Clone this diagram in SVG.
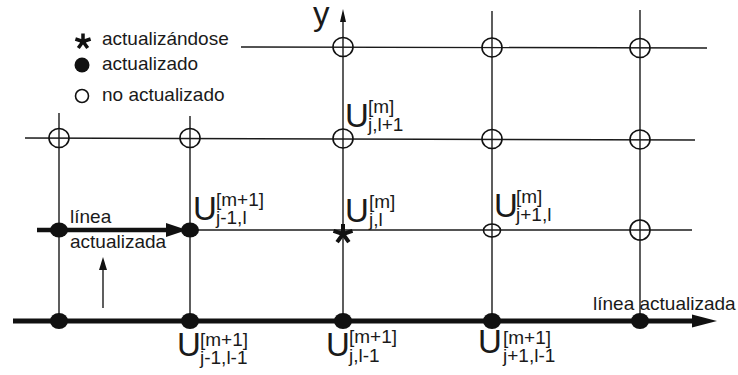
<svg xmlns="http://www.w3.org/2000/svg" width="738" height="375" viewBox="0 0 738 375">
<style>
.t{font-family:"Liberation Sans",Arial,Helvetica,sans-serif;font-size:19px;fill:#1a1a1a}
.u{font-size:33px}
.ln{stroke:#1a1a1a;stroke-width:1.4;fill:none}
.thick{stroke:#111;stroke-width:5;fill:none}
.open{fill:none;stroke:#111;stroke-width:1.6}
.dot{fill:#111}
.star{stroke:#111;fill:none}
.head{fill:#111}
</style>
<defs>
<path id="ast" d="M0 0L0 -1M0 0L0.951 -0.309M0 0L0.588 0.809M0 0L-0.588 0.809M0 0L-0.951 -0.309"/>
</defs>

<g id="legend">
<g transform="translate(83,41.5) scale(8)"><use href="#ast" class="star" style="stroke-width:0.44"/></g>
<text class="t" x="102" y="45">actualizándose</text>
<ellipse class="dot" cx="82" cy="65" rx="7.5" ry="7.5"/>
<text class="t" x="102" y="70">actualizado</text>
<ellipse class="open" cx="82" cy="96" rx="6.5" ry="6.5"/>
<text class="t" x="102" y="101">no actualizado</text>
</g>

<g id="connectors">
<path class="ln" d="M241 47L707 48"/>
<path class="ln" d="M25 138L695 140"/>
<path class="ln" d="M37 230L692 230"/>
<path class="ln" d="M59 113V321M190 116V321M343 20V321M492 11V321M640 10V321"/>
<path class="thick" d="M37 230H170" style="stroke-width:4.5"/>
<polygon class="head" points="166,223 187,230 166,237"/>
<path class="thick" d="M13 321H695"/>
<polygon class="head" points="692,314.5 717,321 692,327.5"/>
<polygon class="head" points="340,22 343,9 346,22"/>
<path class="ln" d="M103 308V269"/>
<polygon class="head" points="99,270 103,257 107,270"/>
</g>

<g id="nodes">
<g id="n-343-47"><ellipse class="open" cx="343" cy="47" rx="10" ry="9.5"/></g>
<g id="n-492-47"><ellipse class="open" cx="492" cy="47.5" rx="10" ry="9.5"/></g>
<g id="n-640-48"><ellipse class="open" cx="640" cy="48" rx="10" ry="9.5"/></g>
<g id="n-59-138"><ellipse class="open" cx="59" cy="138" rx="10" ry="9.5"/></g>
<g id="n-190-138"><ellipse class="open" cx="190" cy="138" rx="10" ry="9.5"/></g>
<g id="n-343-138"><ellipse class="open" cx="343" cy="138.5" rx="10" ry="9.5"/></g>
<g id="n-492-139"><ellipse class="open" cx="492" cy="139" rx="10" ry="9.5"/></g>
<g id="n-640-139"><ellipse class="open" cx="640" cy="139.5" rx="10" ry="9.5"/></g>
<g id="n-59-230"><ellipse class="dot" cx="59" cy="230" rx="9" ry="7.5"/></g>
<g id="n-190-230"><ellipse class="dot" cx="190" cy="230" rx="9" ry="7.5"/></g>
<g id="n-343-230"><g transform="translate(343,234) scale(10)"><use href="#ast" class="star" style="stroke-width:0.4"/></g></g>
<g id="n-492-230"><ellipse class="open" cx="492" cy="230.5" rx="8.5" ry="6.5"/></g>
<g id="n-640-230"><ellipse class="open" cx="640" cy="230" rx="10" ry="10"/></g>
<g id="n-59-321"><ellipse class="dot" cx="59" cy="321" rx="9" ry="8"/></g>
<g id="n-190-321"><ellipse class="dot" cx="190" cy="321" rx="9" ry="8"/></g>
<g id="n-343-321"><ellipse class="dot" cx="343" cy="321" rx="9" ry="8"/></g>
<g id="n-492-321"><ellipse class="dot" cx="492" cy="321" rx="9" ry="8"/></g>
<g id="n-640-321"><ellipse class="dot" cx="640" cy="321" rx="9" ry="8"/></g>
</g>

<g id="labels">
<text class="t u" x="313" y="25">y</text>
<text class="t" x="70" y="223">línea</text>
<text class="t" x="70" y="248">actualizada</text>
<text class="t" x="593" y="310">línea actualizada</text>

<text class="t"><tspan class="u" x="345" y="127">U</tspan><tspan x="368" y="113">[m]</tspan><tspan x="368" y="131">j,l+1</tspan></text>

<text class="t"><tspan class="u" x="193" y="220">U</tspan><tspan x="216" y="206">[m+1]</tspan><tspan x="216" y="224">j-1,l</tspan></text>

<text class="t"><tspan class="u" x="345" y="222">U</tspan><tspan x="369" y="208">[m]</tspan><tspan x="369" y="226">j,l</tspan></text>

<text class="t"><tspan class="u" x="494" y="217">U</tspan><tspan x="516" y="203">[m]</tspan><tspan x="516" y="221">j+1,l</tspan></text>

<text class="t"><tspan class="u" x="177" y="356">U</tspan><tspan x="200" y="346">[m+1]</tspan><tspan x="200" y="364">j-1,l-1</tspan></text>

<text class="t"><tspan class="u" x="326" y="356">U</tspan><tspan x="349" y="343">[m+1]</tspan><tspan x="349" y="362">j,l-1</tspan></text>

<text class="t"><tspan class="u" x="478" y="353">U</tspan><tspan x="503" y="344">[m+1]</tspan><tspan x="503" y="362">j+1,l-1</tspan></text>
</g>
</svg>
